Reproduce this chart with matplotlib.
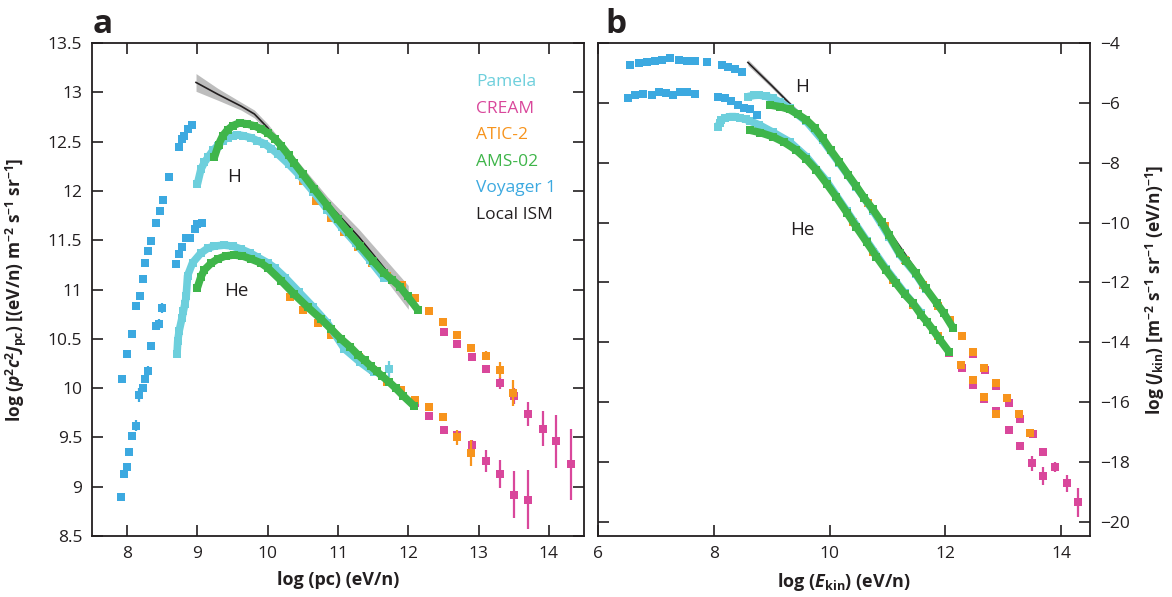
import matplotlib.pyplot as plt
import numpy as np

plt.rcParams['font.family'] = ['Open Sans', 'DejaVu Sans']
plt.rcParams['mathtext.fontset'] = 'custom'
plt.rcParams['mathtext.rm'] = 'Open Sans'
plt.rcParams['mathtext.it'] = 'Open Sans:italic'
plt.rcParams['mathtext.bf'] = 'Open Sans:bold'
plt.rcParams['mathtext.bfit'] = 'Open Sans:italic:bold'

# renkler
c_pamela = '#6dcfdc'
c_cream = '#d9479b'
c_atic = '#f7941d'
c_ams = '#3fb54a'
c_voyager = '#3ca9e0'
c_ism = '#231f20'
c_band = '#bdbdbd'

# ---------- panel a : log(pc) ----------
voy_h_pc_x = [7.93, 8.00, 8.07, 8.12, 8.18, 8.22, 8.26, 8.29, 8.34, 8.41, 8.47, 8.51, 8.60, 8.74, 8.78, 8.81, 8.86, 8.92]
voy_h_pc_y = [10.09, 10.35, 10.55, 10.83, 10.93, 11.11, 11.27, 11.39, 11.49, 11.67, 11.80, 11.91, 12.14, 12.45, 12.53, 12.56, 12.63, 12.67]

voy_he_pc_x = [7.915, 7.95, 8.00, 8.03, 8.07, 8.12, 8.175, 8.22, 8.26, 8.30, 8.345, 8.41, 8.46, 8.50, 8.70, 8.74, 8.78, 8.84, 8.90, 8.96, 9.00, 9.07]
voy_he_pc_y = [8.90, 9.13, 9.20, 9.35, 9.51, 9.62, 9.93, 10.00, 10.09, 10.17, 10.43, 10.63, 10.65, 10.81, 11.26, 11.36, 11.43, 11.52, 11.52, 11.61, 11.66, 11.67]
voy_he_pc_err = [0, 0, 0, 0, 0, 0.06, 0.07, 0.03, 0.03, 0.05, 0.04, 0.03, 0.05, 0.05, 0, 0, 0, 0, 0, 0, 0, 0]

pam_h_pc_x = [9.00, 9.05, 9.10, 9.15, 9.22, 9.29, 9.36, 9.43, 9.50, 9.57, 9.65, 9.76, 9.85, 9.95, 10.05, 10.15, 10.30, 10.45, 10.65, 10.85, 11.05, 11.25, 11.45, 11.65]
pam_h_pc_y = [12.07, 12.22, 12.29, 12.34, 12.41, 12.46, 12.51, 12.54, 12.56, 12.57, 12.56, 12.54, 12.51, 12.48, 12.43, 12.37, 12.27, 12.16, 11.99, 11.81, 11.63, 11.47, 11.30, 11.12]

ams_h_pc_x = [9.24, 9.30, 9.36, 9.43, 9.50, 9.60, 9.70, 9.81, 9.90, 10.00, 10.10, 10.19, 10.30, 10.38, 10.50, 10.66, 10.85, 11.00, 11.15, 11.32, 11.50, 11.65, 11.77, 11.88, 11.99, 12.14]
ams_h_pc_y = [12.34, 12.47, 12.56, 12.62, 12.66, 12.69, 12.68, 12.66, 12.63, 12.59, 12.53, 12.46, 12.36, 12.28, 12.17, 12.02, 11.85, 11.71, 11.58, 11.44, 11.29, 11.17, 11.10, 11.03, 10.93, 10.79]

atic_h_pc_x = [10.50, 10.69, 10.90, 11.09, 11.28, 11.49, 11.70, 11.91, 12.09, 12.30, 12.49, 12.70, 12.89, 13.10, 13.31, 13.49]
atic_h_pc_y = [12.10, 11.90, 11.73, 11.58, 11.43, 11.27, 11.14, 11.05, 10.91, 10.78, 10.67, 10.54, 10.41, 10.33, 10.18, 9.95]
atic_h_pc_err = [0, 0, 0, 0, 0, 0, 0, 0, 0, 0, 0.02, 0.02, 0.03, 0.05, 0.08, 0.13]

cream_h_pc_x = [12.51, 12.70, 12.91, 13.11, 13.31, 13.51, 13.71, 13.91, 14.10, 14.31]
cream_h_pc_y = [10.57, 10.45, 10.32, 10.19, 10.05, 9.92, 9.74, 9.59, 9.46, 9.23]
cream_h_pc_err = [0.02, 0.02, 0.03, 0.04, 0.06, 0.08, 0.12, 0.18, 0.27, 0.36]

pam_he_pc_x = [8.71, 8.72, 8.74, 8.78, 8.80, 8.82, 8.84, 8.86, 8.93, 9.05, 9.15, 9.24, 9.38, 9.50, 9.62, 9.75, 9.85, 10.00, 10.10, 10.25, 10.45, 10.65, 10.85, 11.09, 11.32, 11.51, 11.72]
pam_he_pc_y = [10.35, 10.48, 10.58, 10.71, 10.78, 10.85, 10.93, 11.14, 11.27, 11.37, 11.42, 11.44, 11.45, 11.44, 11.41, 11.37, 11.33, 11.27, 11.22, 11.12, 10.97, 10.82, 10.66, 10.40, 10.26, 10.16, 10.19]
pam_he_pc_err = [0] * 26 + [0.08]

ams_he_pc_x = [9.00, 9.05, 9.10, 9.20, 9.29, 9.40, 9.52, 9.64, 9.76, 9.90, 10.00, 10.19, 10.38, 10.57, 10.76, 10.90, 11.04, 11.17, 11.28, 11.38, 11.47, 11.55, 11.63, 11.73, 11.82, 11.93, 12.08]
ams_he_pc_y = [11.02, 11.13, 11.20, 11.27, 11.31, 11.34, 11.35, 11.34, 11.31, 11.27, 11.22, 11.09, 10.95, 10.82, 10.70, 10.60, 10.50, 10.42, 10.34, 10.28, 10.22, 10.17, 10.12, 10.06, 10.00, 9.92, 9.82]

atic_he_pc_x = [10.31, 10.50, 10.71, 10.90, 11.10, 11.30, 11.50, 11.70, 11.89, 12.09, 12.30, 12.49, 12.70, 12.89]
atic_he_pc_y = [10.92, 10.79, 10.66, 10.54, 10.44, 10.32, 10.18, 10.06, 9.98, 9.88, 9.81, 9.71, 9.50, 9.34]
atic_he_pc_err = [0, 0, 0, 0, 0, 0, 0, 0, 0, 0, 0.02, 0.03, 0.08, 0.13]

cream_he_pc_x = [12.10, 12.30, 12.51, 12.70, 12.91, 13.10, 13.31, 13.51, 13.71]
cream_he_pc_y = [9.85, 9.72, 9.58, 9.52, 9.42, 9.26, 9.13, 8.92, 8.87]
cream_he_pc_err = [0.02, 0.02, 0.02, 0.03, 0.05, 0.11, 0.14, 0.24, 0.30]

ism_pc_x = [8.98, 9.29, 9.62, 9.81, 10.00, 10.38, 10.85, 11.30, 12.00]
ism_pc_y = [13.10, 12.98, 12.86, 12.78, 12.64, 12.29, 11.88, 11.53, 10.92]
ism_pc_unc = [0.09, 0.06, 0.04, 0.04, 0.04, 0.05, 0.06, 0.08, 0.12]

# ---------- panel b : log(E_kin) ----------
voy_h_ek_x = [6.55, 6.71, 6.85, 6.98, 7.10, 7.24, 7.40, 7.54, 7.68, 7.88, 8.14, 8.25, 8.37, 8.48]
voy_h_ek_y = [-4.72, -4.68, -4.63, -4.59, -4.57, -4.51, -4.57, -4.61, -4.61, -4.65, -4.72, -4.79, -4.88, -4.98]

voy_he_ek_x = [6.52, 6.64, 6.78, 6.93, 7.06, 7.17, 7.29, 7.41, 7.54, 7.67, 8.07, 8.19, 8.30, 8.42, 8.53, 8.63, 8.75]
voy_he_ek_y = [-5.83, -5.75, -5.70, -5.74, -5.63, -5.68, -5.74, -5.63, -5.63, -5.70, -5.79, -5.85, -5.93, -6.07, -6.18, -6.21, -6.40]

pam_h_ek_x = [8.59, 8.70, 8.79, 8.90, 9.02, 9.15, 9.31, 9.60, 9.88, 10.17, 10.46, 10.75, 11.03, 11.21, 11.49, 11.66]
pam_h_ek_y = [-5.79, -5.75, -5.74, -5.78, -5.85, -5.98, -6.18, -6.62, -7.25, -8.02, -8.80, -9.60, -10.47, -11.06, -11.72, -12.22]

ams_h_ek_x = [8.97, 9.15, 9.31, 9.45, 9.60, 9.75, 9.88, 10.02, 10.17, 10.32, 10.46, 10.60, 10.75, 10.90, 11.03, 11.21, 11.32, 11.49, 11.66, 11.85, 11.97, 12.13]
ams_h_ek_y = [-6.07, -6.13, -6.22, -6.38, -6.57, -6.85, -7.18, -7.58, -7.98, -8.40, -8.78, -9.18, -9.56, -9.98, -10.42, -11.02, -11.27, -11.69, -12.19, -12.69, -13.01, -13.51]

atic_h_ek_x = [10.66, 10.95, 11.30, 11.62, 11.88, 12.08, 12.28, 12.48, 12.67, 12.88, 13.07, 13.28, 13.47]
atic_h_ek_y = [-9.36, -10.12, -11.25, -12.10, -12.80, -13.27, -13.79, -14.33, -14.86, -15.37, -15.87, -16.39, -17.04]
atic_h_ek_err = [0, 0, 0, 0, 0, 0, 0, 0, 0, 0, 0.04, 0.06, 0.10]

cream_h_ek_x = [12.48, 12.69, 12.88, 13.10, 13.29, 13.52, 13.68, 13.90, 14.10, 14.29]
cream_h_ek_y = [-14.40, -14.91, -15.47, -16.04, -16.55, -17.07, -17.65, -18.17, -18.71, -19.35]
cream_h_ek_err = [0.05, 0.05, 0.05, 0.06, 0.08, 0.10, 0.12, 0.17, 0.28, 0.50]

pam_he_ek_x = [8.07, 8.10, 8.13, 8.20, 8.28, 8.37, 8.45, 8.55, 8.62, 8.79, 9.02, 9.31, 9.60, 9.95, 10.30, 10.64, 10.98, 11.30, 11.58]
pam_he_ek_y = [-6.79, -6.68, -6.57, -6.50, -6.46, -6.46, -6.50, -6.55, -6.60, -6.74, -6.98, -7.30, -7.80, -8.62, -9.62, -10.60, -11.55, -12.36, -13.02]

ams_he_ek_x = [8.62, 8.80, 9.02, 9.22, 9.42, 9.60, 9.77, 9.95, 10.11, 10.30, 10.46, 10.64, 10.81, 10.98, 11.15, 11.30, 11.44, 11.58, 11.68, 11.79, 11.91, 12.06]
ams_he_ek_y = [-6.91, -6.99, -7.13, -7.32, -7.57, -7.88, -8.24, -8.70, -9.13, -9.67, -10.14, -10.65, -11.14, -11.60, -12.03, -12.40, -12.69, -13.08, -13.31, -13.59, -13.92, -14.31]

atic_he_ek_x = [10.40, 10.75, 11.10, 11.45, 11.88, 12.27, 12.48, 12.67, 12.88]
atic_he_ek_y = [-9.97, -10.98, -11.92, -12.74, -13.79, -14.75, -15.26, -15.83, -16.39]
atic_he_ek_err = [0, 0, 0, 0, 0, 0, 0, 0.05, 0.08]

cream_he_ek_x = [12.06, 12.29, 12.48, 12.67, 12.88, 13.10, 13.29, 13.49, 13.68]
cream_he_ek_y = [-14.35, -14.85, -15.43, -15.90, -16.30, -16.92, -17.45, -18.04, -18.48]
cream_he_ek_err = [0.05, 0.05, 0.05, 0.05, 0.06, 0.08, 0.12, 0.25, 0.30]

ism_ek_x = [8.59, 9.00, 9.48, 10.00, 10.50, 11.00, 11.50, 12.00]
ism_ek_y = [-4.65, -5.42, -6.35, -7.52, -8.80, -10.20, -11.60, -13.05]
ism_ek_unc = [0.10, 0.08, 0.06, 0.06, 0.06, 0.06, 0.06, 0.08]

legend_names = ['Pamela', 'CREAM', 'ATIC-2', 'AMS-02', 'Voyager 1', 'Local ISM']
legend_colors = [c_pamela, c_cream, c_atic, c_ams, c_voyager, c_ism]

ms = 5.2


def pts(ax, x, y, color, z, err=None, band=False):
    # kare noktalar (yoğun seriler için kalın çizgi ile)
    if band:
        ax.plot(x, y, color=color, lw=5.5, solid_capstyle='butt', zorder=z)
    if err is not None:
        ax.errorbar(x, y, yerr=err, fmt='s', color=color, ms=ms, mew=0,
                    elinewidth=1.6, capsize=0, zorder=z)
    else:
        ax.plot(x, y, 's', color=color, ms=ms, mew=0, zorder=z)


def ism(ax, x, y, unc):
    x = np.array(x)
    y = np.array(y)
    unc = np.array(unc)
    ax.fill_between(x, y - unc, y + unc, color=c_band, lw=0, zorder=1)
    ax.plot(x, y, color=c_ism, lw=1.2, zorder=1.5)


def style(ax):
    for s in ax.spines.values():
        s.set_linewidth(1.3)
        s.set_color(c_ism)
    ax.tick_params(direction='in', length=8, width=1.2, top=True, right=True,
                   labelsize=12.5, colors=c_ism, pad=7)


fig = plt.figure(figsize=(11.72, 5.97), dpi=100)
ax1 = fig.add_axes([92 / 1172, 61 / 597, 492 / 1172, 493 / 597])
ax2 = fig.add_axes([598 / 1172, 61 / 597, 492 / 1172, 493 / 597])

# panel a
ism(ax1, ism_pc_x, ism_pc_y, ism_pc_unc)
pts(ax1, cream_h_pc_x, cream_h_pc_y, c_cream, 2, cream_h_pc_err)
pts(ax1, cream_he_pc_x, cream_he_pc_y, c_cream, 2, cream_he_pc_err)
pts(ax1, atic_h_pc_x, atic_h_pc_y, c_atic, 2.5, atic_h_pc_err)
pts(ax1, atic_he_pc_x, atic_he_pc_y, c_atic, 2.5, atic_he_pc_err)
pts(ax1, pam_h_pc_x, pam_h_pc_y, c_pamela, 3, band=True)
pts(ax1, pam_he_pc_x[:-1], pam_he_pc_y[:-1], c_pamela, 3, band=True)
pts(ax1, pam_he_pc_x[-1:], pam_he_pc_y[-1:], c_pamela, 3, pam_he_pc_err[-1:])
pts(ax1, voy_h_pc_x, voy_h_pc_y, c_voyager, 3)
pts(ax1, voy_he_pc_x, voy_he_pc_y, c_voyager, 3, voy_he_pc_err)
pts(ax1, ams_h_pc_x, ams_h_pc_y, c_ams, 4, band=True)
pts(ax1, ams_he_pc_x, ams_he_pc_y, c_ams, 4, band=True)

ax1.set_xlim(7.5, 14.5)
ax1.set_ylim(8.5, 13.5)
ax1.set_xticks([8, 9, 10, 11, 12, 13, 14])
ax1.set_yticks(np.arange(8.5, 13.51, 0.5))
ax1.set_yticklabels(['8.5', '9', '9.5', '10', '10.5', '11', '11.5', '12', '12.5', '13', '13.5'])
style(ax1)
ax1.set_xlabel('log (pc) (eV/n)', fontsize=13, fontweight='bold', color=c_ism)
ax1.set_ylabel(r'log ($\mathbfit{p}^{\mathbf{2}}\mathbfit{c}^{\mathbf{2}}\mathbfit{J}_{\mathbf{pc}}$) '
               r'[(eV/n) m$^{\mathbf{-2}}$ s$^{\mathbf{-1}}$ sr$^{\mathbf{-1}}$]',
               fontsize=12.5, fontweight='bold', color=c_ism)
ax1.xaxis.set_label_coords(0.5, -0.072)
ax1.yaxis.set_label_coords(-0.128, 0.5)
ax1.text(9.52, 12.14, 'H', fontsize=13.5, ha='center', va='center', color=c_ism)
ax1.text(9.55, 10.98, 'He', fontsize=13.5, ha='center', va='center', color=c_ism)

for i, (name, col) in enumerate(zip(legend_names, legend_colors)):
    ax1.text(0.78, 0.921 - i * 0.054, name, transform=ax1.transAxes, color=col,
             fontsize=12.5, ha='left', va='center')

# panel b
ism(ax2, ism_ek_x, ism_ek_y, ism_ek_unc)
pts(ax2, cream_h_ek_x, cream_h_ek_y, c_cream, 2, cream_h_ek_err)
pts(ax2, cream_he_ek_x, cream_he_ek_y, c_cream, 2, cream_he_ek_err)
pts(ax2, atic_h_ek_x, atic_h_ek_y, c_atic, 2.5, atic_h_ek_err)
pts(ax2, atic_he_ek_x, atic_he_ek_y, c_atic, 2.5, atic_he_ek_err)
pts(ax2, pam_h_ek_x, pam_h_ek_y, c_pamela, 3, band=True)
pts(ax2, pam_he_ek_x, pam_he_ek_y, c_pamela, 3, band=True)
pts(ax2, voy_h_ek_x, voy_h_ek_y, c_voyager, 3)
pts(ax2, voy_he_ek_x, voy_he_ek_y, c_voyager, 3)
pts(ax2, ams_h_ek_x, ams_h_ek_y, c_ams, 4, band=True)
pts(ax2, ams_he_ek_x, ams_he_ek_y, c_ams, 4, band=True)

ax2.set_xlim(6, 14.5)
ax2.set_ylim(-20.47, -4)
ax2.set_xticks([6, 8, 10, 12, 14])
ax2.set_yticks(np.arange(-20, -3.9, 2))
style(ax2)
ax2.tick_params(labelleft=False, labelright=True)
ax2.set_xlabel(r'log ($\mathbfit{E}_{\mathbf{kin}}$) (eV/n)', fontsize=13, fontweight='bold', color=c_ism)
ax2.yaxis.set_label_position('right')
ax2.set_ylabel(r'log ($\mathbfit{J}_{\mathbf{kin}}$) [m$^{\mathbf{-2}}$ s$^{\mathbf{-1}}$ '
               r'sr$^{\mathbf{-1}}$ (eV/n)$^{\mathbf{-1}}$]',
               fontsize=12.5, fontweight='bold', color=c_ism, rotation=90)
ax2.xaxis.set_label_coords(0.5, -0.072)
ax2.yaxis.set_label_coords(1.108, 0.5)
ax2.text(9.53, -5.47, 'H', fontsize=13.5, ha='center', va='center', color=c_ism)
ax2.text(9.53, -10.25, 'He', fontsize=13.5, ha='center', va='center', color=c_ism)

# panel harfleri
fig.text(93 / 1172, 1 - 33 / 597, 'a', fontsize=24, fontweight='bold', color=c_ism)
fig.text(605 / 1172, 1 - 33 / 597, 'b', fontsize=24, fontweight='bold', color=c_ism)

plt.savefig('out.png', dpi=100)
